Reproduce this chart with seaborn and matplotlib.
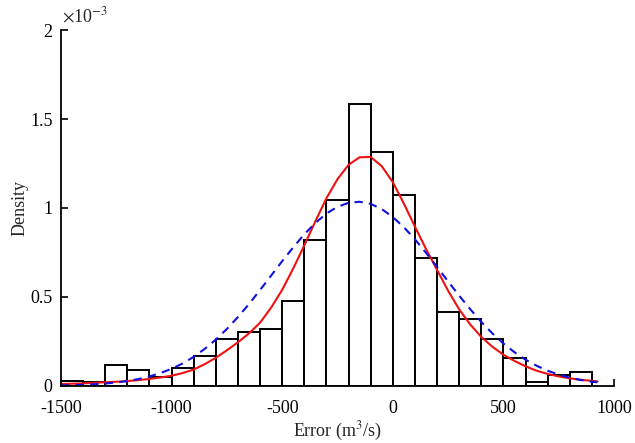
import numpy as np
import pandas as pd
import matplotlib
matplotlib.use("Agg")
import matplotlib.pyplot as plt
import seaborn as sns

# histogram bins (edges every 100 m3/s) and bar heights in 1e-3 units
bin_edges = list(range(-1500, 1000, 100))
bin_heights = [0.030, 0.019, 0.116, 0.090, 0.052, 0.099, 0.167, 0.262, 0.301, 0.322,
               0.476, 0.820, 1.045, 1.584, 1.313, 1.071, 0.717, 0.418, 0.378, 0.266,
               0.157, 0.022, 0.060, 0.077]

# fitted pdf curves (1e-3 units)
curve_x = list(range(-1500, 950, 50)) + [925]
curve_x = sorted(set(curve_x) - {950})
red_fit = [0.010, 0.012, 0.014, 0.017, 0.020, 0.023, 0.027, 0.032, 0.039, 0.047,
           0.057, 0.072, 0.092, 0.122, 0.158, 0.200, 0.245, 0.295, 0.355, 0.440,
           0.540, 0.660, 0.790, 0.925, 1.055, 1.162, 1.243, 1.285, 1.287, 1.235,
           1.145, 1.025, 0.895, 0.770, 0.652, 0.535, 0.430, 0.345, 0.275, 0.220,
           0.175, 0.140, 0.110, 0.085, 0.067, 0.053, 0.042, 0.034, 0.028, 0.025]
blue_fit = [0.002, 0.004, 0.006, 0.009, 0.013, 0.019, 0.027, 0.038, 0.053, 0.072,
            0.096, 0.126, 0.163, 0.208, 0.260, 0.320, 0.387, 0.460, 0.539, 0.620,
            0.701, 0.779, 0.852, 0.916, 0.969, 1.007, 1.029, 1.035, 1.023, 0.994,
            0.949, 0.892, 0.824, 0.748, 0.669, 0.587, 0.507, 0.431, 0.359, 0.295,
            0.238, 0.189, 0.147, 0.113, 0.085, 0.063, 0.046, 0.033, 0.023, 0.020]

sns.set_style("ticks")
plt.rcParams['font.family'] = ['Liberation Serif', 'DejaVu Serif']
plt.rcParams['axes.unicode_minus'] = False
plt.rcParams['mathtext.fontset'] = 'stix'

fig = plt.figure(figsize=(6.35, 4.43), dpi=100)
ax = fig.add_axes([0.096, 0.129, 0.871, 0.803])

centers = [e + 50 for e in bin_edges[:-1]]
sns.histplot(x=centers, weights=bin_heights, bins=bin_edges, stat="count",
             color="white", edgecolor="black", linewidth=1.4, alpha=1, ax=ax)

curves = pd.DataFrame({"x": curve_x, "red": red_fit, "blue": blue_fit})
sns.lineplot(data=curves, x="x", y="red", color="#ee1111", linewidth=1.5, ax=ax)
sns.lineplot(data=curves, x="x", y="blue", color="#1010e0", linewidth=1.5,
             linestyle=(0, (4, 3)), ax=ax)

ax.set_xlim(-1500, 1000)
ax.set_ylim(0, 2)
ax.set_xticks([-1500, -1000, -500, 0, 500, 1000])
ax.set_yticks([0, 0.5, 1, 1.5, 2])
ax.set_yticklabels(["0", "0.5", "1", "1.5", "2"])
ax.tick_params(direction="in", length=5, width=1.2, labelsize=13, colors="black")
ax.tick_params(axis="x", pad=10)
ax.tick_params(axis="y", pad=6)
for side in ["top", "right"]:
    ax.spines[side].set_visible(False)
for side in ["left", "bottom"]:
    ax.spines[side].set_linewidth(1.3)
    ax.spines[side].set_color("black")

ax.set_xlabel("Error (m$^3$/s)", fontsize=13, labelpad=2)
ax.set_ylabel("Density", fontsize=13, labelpad=1)
ax.text(0.002, 1.012, r"$\times$10$^{-3}$", transform=ax.transAxes, fontsize=13,
        ha="left", va="bottom")

fig.savefig("out.png", dpi=100)
